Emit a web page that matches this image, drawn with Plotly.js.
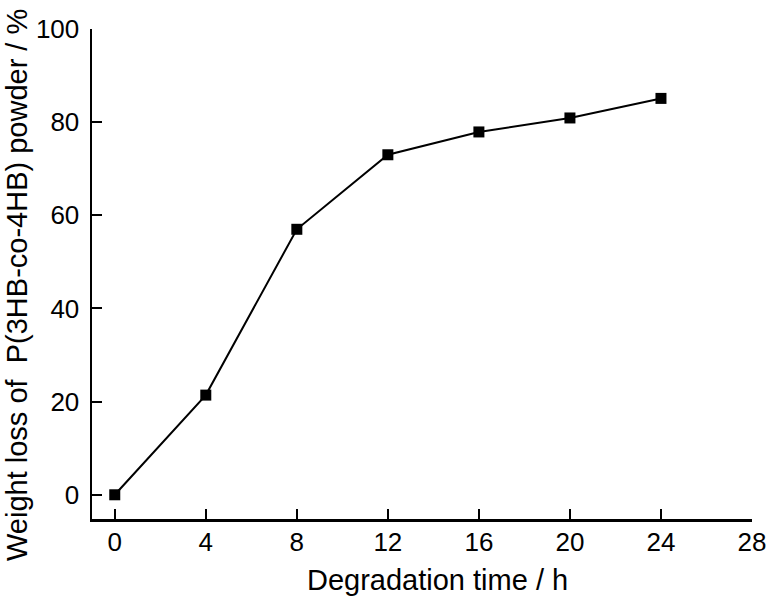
<!DOCTYPE html>
<html><head><meta charset="utf-8">
<script src="https://cdn.plot.ly/plotly-3.0.1.min.js"></script>
<style>html,body{margin:0;padding:0;background:#fff}#chart{width:770px;height:598px}</style>
</head><body><div id="chart"></div>
<script>
const hours = [0, 4, 8, 12, 16, 20, 24];
const weightLoss = [0, 21.4, 57.0, 73.0, 77.9, 80.9, 85.1];
const xTicks = [0, 4, 8, 12, 16, 20, 24, 28];
const yTicks = [0, 20, 40, 60, 80, 100];
const xTitle = 'Degradation time / h';
const yTitle = 'Weight loss of  P(3HB-co-4HB) powder / %';

const trace = {
  x: hours, y: weightLoss, type: 'scatter', mode: 'lines+markers',
  line: {color: '#000', width: 2},
  marker: {symbol: 'square', size: 11, color: '#000'},
  cliponaxis: false
};
const fam = '"Liberation Sans", Arial, sans-serif';
const layout = {
  width: 770, height: 598,
  margin: {l: 92, r: 18, t: 29, b: 79},
  paper_bgcolor: '#fff', plot_bgcolor: '#fff',
  showlegend: false,
  font: {family: fam, color: '#000'},
  xaxis: {
    range: [-1, 28], tickvals: xTicks, ticktext: xTicks.map(String),
    ticks: 'inside', ticklen: 10, tickwidth: 2, tickcolor: '#000',
    showline: true, linewidth: 2.5, linecolor: '#000', showgrid: false, zeroline: false,
    tickfont: {size: 26, family: fam, color: '#000'}, ticklabelstandoff: -2
  },
  yaxis: {
    range: [-5.2, 100], tickvals: yTicks, ticktext: yTicks.map(String),
    ticks: 'inside', ticklen: 10, tickwidth: 2, tickcolor: '#000',
    showline: true, linewidth: 2.5, linecolor: '#000', showgrid: false, zeroline: false,
    tickfont: {size: 26, family: fam, color: '#000'}, ticklabelstandoff: 5
  },
  annotations: [
    {text: xTitle, xref: 'paper', yref: 'paper', x: 0.523, y: -0.124, xanchor: 'center', yanchor: 'middle',
     showarrow: false, font: {size: 29, family: fam, color: '#000'}},
    {text: yTitle, xref: 'paper', yref: 'paper', x: -0.1136, y: 0.4776, xanchor: 'center', yanchor: 'middle',
     textangle: -90, showarrow: false, font: {size: 29, family: fam, color: '#000'}}
  ]
};
Plotly.newPlot('chart', [trace], layout, {displayModeBar: false, staticPlot: true});
</script></body></html>
